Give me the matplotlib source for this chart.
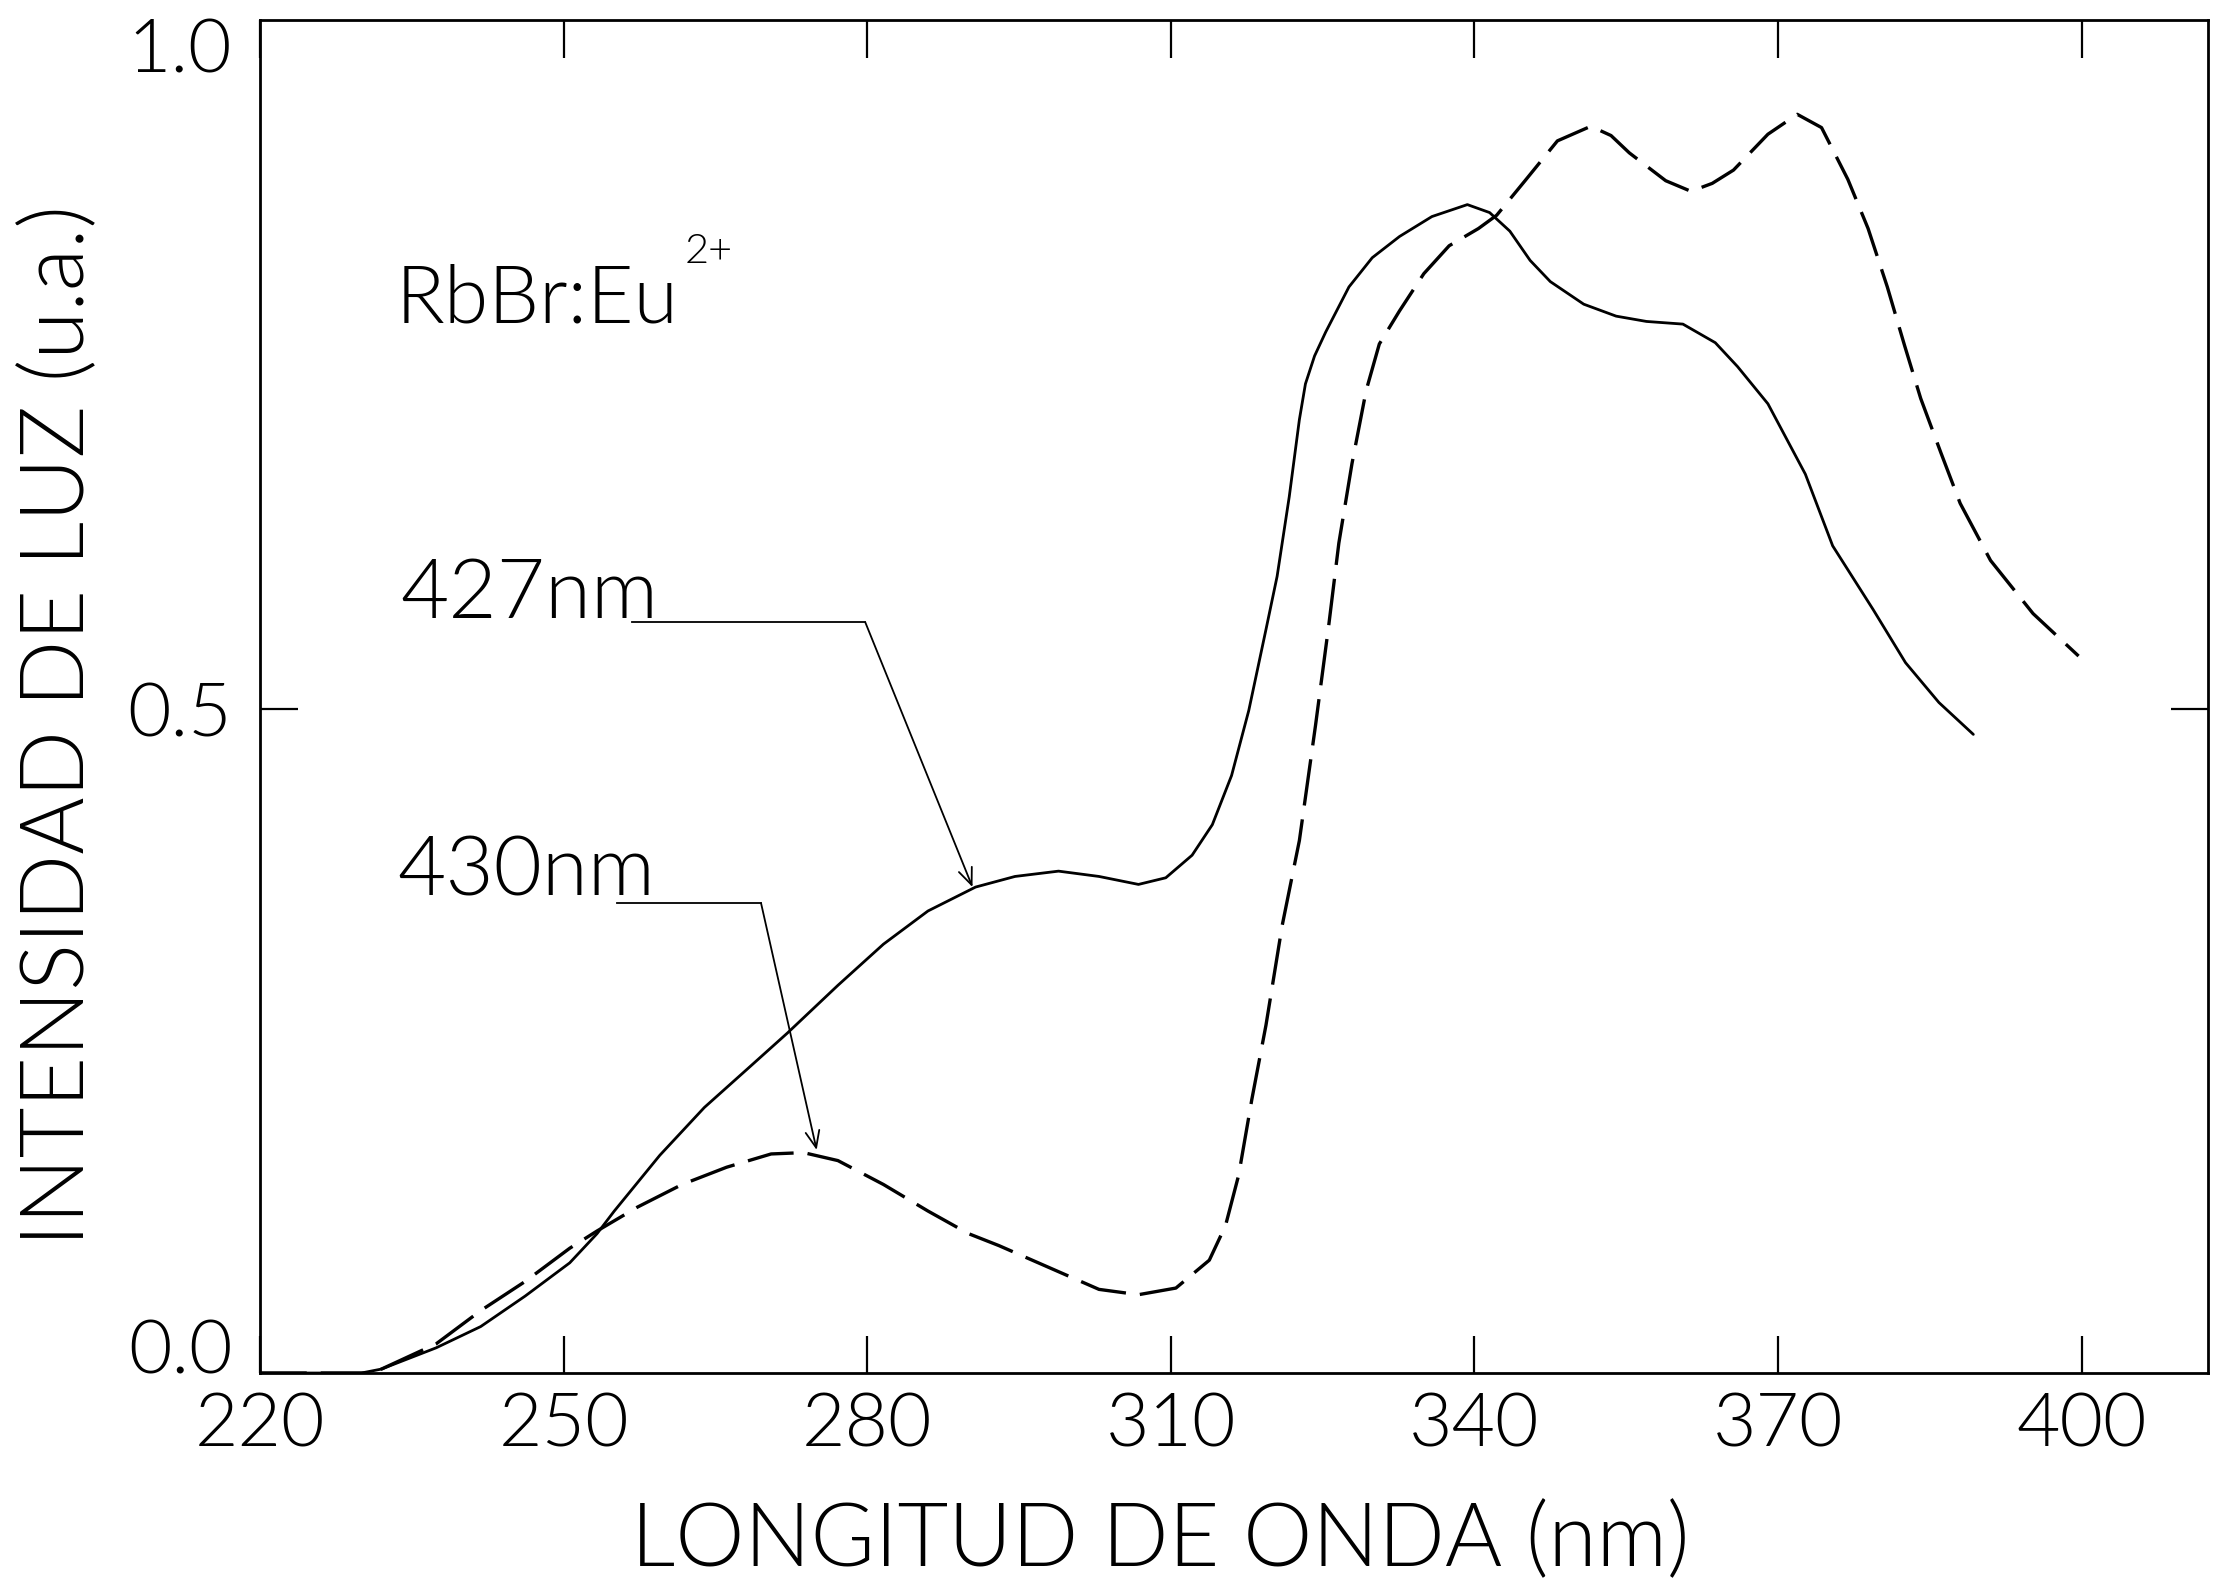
import matplotlib
matplotlib.use('Agg')
import matplotlib.pyplot as plt

# ------------------------------------
# Datos (RbBr:Eu2+, excitacion)
# ------------------------------------
wl_427 = [220, 230, 232.0, 237.4, 241.8, 246.2, 250.6, 253.3, 255.0, 259.5, 263.9,
          268.3, 272.1, 277.1, 281.6, 286.0, 290.7, 294.6, 298.9, 302.9, 306.8,
          309.5, 312.1, 314.1, 316.0, 317.7, 319.4, 320.5, 321.7, 322.7, 323.3,
          324.2, 325.3, 327.6, 329.9, 332.6, 335.8, 339.3, 341.5, 343.5, 345.5,
          347.5, 350.8, 354.0, 357.0, 360.6, 363.8, 366.0, 369.0, 372.7, 375.4,
          379.4, 382.6, 385.9, 389.3]
int_427 = [0.0, 0.0, 0.003, 0.019, 0.035, 0.058, 0.083, 0.105, 0.122, 0.164, 0.200,
           0.230, 0.256, 0.292, 0.323, 0.348, 0.366, 0.374, 0.378, 0.374, 0.368,
           0.373, 0.390, 0.413, 0.450, 0.499, 0.560, 0.600, 0.660, 0.718, 0.745,
           0.766, 0.784, 0.818, 0.840, 0.856, 0.871, 0.880, 0.874, 0.860, 0.838,
           0.822, 0.805, 0.796, 0.792, 0.790, 0.776, 0.758, 0.730, 0.677, 0.623,
           0.575, 0.535, 0.505, 0.481]

wl_430 = [220, 231, 232.0, 237.4, 241.8, 246.2, 250.6, 253.3, 257.3, 261.7, 266.1,
          270.5, 273.7, 277.1, 281.6, 286.0, 290.0, 293.0, 299.6, 302.9, 306.8,
          310.5, 313.8, 315.4, 316.7, 318.0, 319.4, 321.0, 322.7, 324.3, 325.6,
          326.6, 327.9, 329.3, 330.6, 332.6, 335.0, 337.5, 340.4, 342.2, 345.0,
          348.2, 351.5, 353.5, 355.3, 358.9, 361.4, 363.5, 365.6, 369.0, 371.9,
          374.3, 376.9, 378.9, 380.8, 382.5, 384.1, 386.1, 388.0, 391.0, 395.2,
          399.7]
int_430 = [0.0, 0.0, 0.003, 0.022, 0.047, 0.069, 0.094, 0.107, 0.125, 0.142, 0.155,
           0.165, 0.166, 0.160, 0.142, 0.122, 0.105, 0.096, 0.074, 0.063, 0.059,
           0.064, 0.085, 0.111, 0.149, 0.206, 0.262, 0.337, 0.401, 0.488, 0.563,
           0.625, 0.685, 0.740, 0.775, 0.800, 0.828, 0.849, 0.862, 0.872, 0.898,
           0.928, 0.939, 0.932, 0.919, 0.898, 0.890, 0.896, 0.906, 0.933, 0.948,
           0.938, 0.899, 0.862, 0.818, 0.774, 0.734, 0.693, 0.655, 0.612, 0.572,
           0.540]

x_ticks = [220, 250, 280, 310, 340, 370, 400]
y_ticks = [0.0, 0.5, 1.0]
y_tick_labels = ['0.0', '0.5', '1.0']

plt.rcParams['font.family'] = ['Lato', 'DejaVu Sans']
plt.rcParams['font.weight'] = 300

# ------------------------------------
# Graficar
# ------------------------------------
fig = plt.figure(figsize=(22.23, 15.91), dpi=100)
ax = fig.add_axes([0.117, 0.137, 0.8763, 0.8504])

ax.plot(wl_427, int_427, color='black', lw=2.0, solid_capstyle='round')
line, = ax.plot(wl_430, int_430, color='black', lw=2.4, linestyle='--')
line.set_dashes((14, 4.2))

ax.set_xlim(220, 412.5)
ax.set_ylim(0, 1.019)

for s in ax.spines.values():
    s.set_linewidth(2.0)

ax.set_xticks(x_ticks)
ax.set_xticklabels([str(t) for t in x_ticks])
ax.set_yticks(y_ticks)
ax.set_yticklabels(y_tick_labels)
ax.tick_params(axis='both', direction='in', length=27, width=1.6,
               top=True, right=True, labelsize=54)
ax.tick_params(axis='x', pad=14)
ax.tick_params(axis='y', pad=20)
# etiqueta 0.0 apoyada sobre el eje, sin marca en 1.0
ax.get_yticklabels()[0].set_verticalalignment('baseline')
for t in (ax.yaxis.get_major_ticks()[0], ax.yaxis.get_major_ticks()[2]):
    t.tick1line.set_visible(False)
    t.tick2line.set_visible(False)

# textos
ax.text(233.4, 0.791, 'RbBr:Eu', fontsize=58, va='baseline', ha='left')
ax.text(262.0, 0.836, '2+', fontsize=30, va='baseline', ha='left')
ax.text(233.9, 0.569, '427nm', fontsize=60, va='baseline', ha='left')
ax.text(233.6, 0.360, '430nm', fontsize=60, va='baseline', ha='left')

# flechas
ax.plot([256.8, 279.8], [0.5655, 0.5655], color='black', lw=1.3)
ax.annotate('', xy=(290.4, 0.366), xytext=(279.8, 0.5655),
            arrowprops=dict(arrowstyle='->,head_length=0.6,head_width=0.25',
                            lw=1.3, color='black', mutation_scale=20,
                            shrinkA=0, shrinkB=0))
ax.plot([255.3, 269.5], [0.354, 0.354], color='black', lw=1.3)
ax.annotate('', xy=(275.0, 0.168), xytext=(269.5, 0.354),
            arrowprops=dict(arrowstyle='->,head_length=0.6,head_width=0.25',
                            lw=1.3, color='black', mutation_scale=20,
                            shrinkA=0, shrinkB=0))

fig.text(0.522, 0.031, 'LONGITUD DE ONDA (nm)', fontsize=63,
         ha='center', va='center')
fig.text(0.027, 0.544, 'INTENSIDAD DE LUZ (u.a.)', fontsize=63,
         rotation=90, ha='center', va='center')

fig.savefig('out.png', dpi=100)
